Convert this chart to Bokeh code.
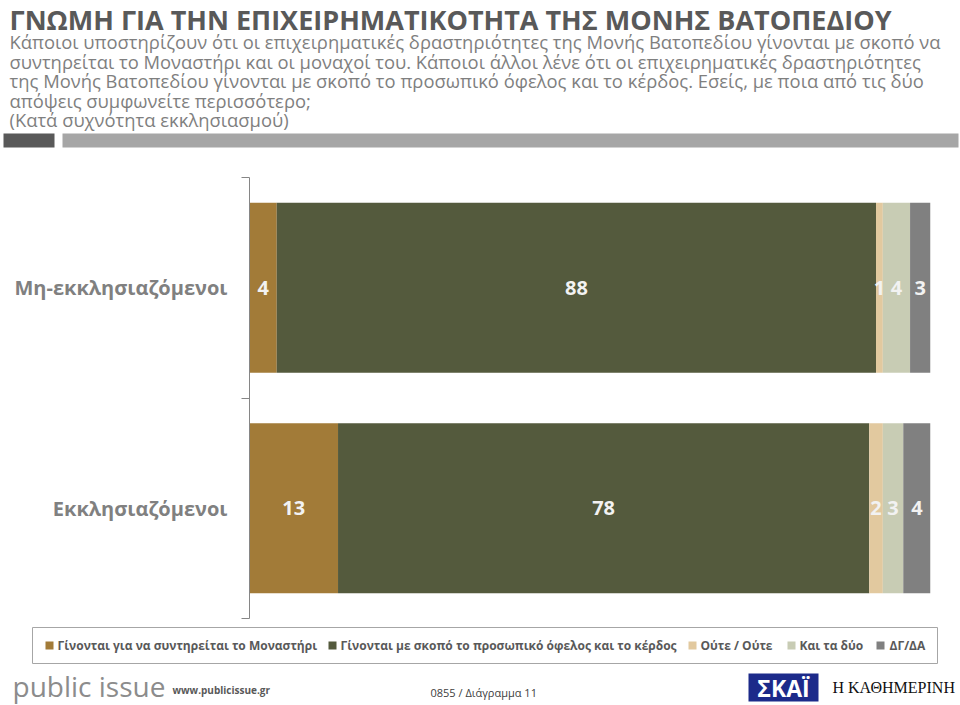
from bokeh.plotting import figure
from bokeh.layouts import column
from bokeh.models import Range1d, FixedTicker, ColumnDataSource
from bokeh.core.properties import value
from bokeh.embed import file_html
from bokeh.resources import INLINE

# ---------------- data ----------------
title = "ΓΝΩΜΗ ΓΙΑ ΤΗΝ ΕΠΙΧΕΙΡΗΜΑΤΙΚΟΤΗΤΑ ΤΗΣ ΜΟΝΗΣ ΒΑΤΟΠΕΔΙΟΥ"
subtitle_lines = [
    "Κάποιοι υποστηρίζουν ότι οι επιχειρηματικές δραστηριότητες της Μονής Βατοπεδίου γίνονται με σκοπό να",
    "συντηρείται το Μοναστήρι και οι μοναχοί του. Κάποιοι άλλοι λένε ότι οι επιχειρηματικές δραστηριότητες",
    "της Μονής Βατοπεδίου γίνονται με σκοπό το προσωπικό όφελος και το κέρδος. Εσείς, με ποια από τις δύο",
    "απόψεις συμφωνείτε περισσότερο;",
    "(Κατά συχνότητα εκκλησιασμού)",
]
categories = ["Εκκλησιαζόμενοι", "Μη-εκκλησιαζόμενοι"]  # bottom to top
series = [
    "Γίνονται για να συντηρείται το Μοναστήρι",
    "Γίνονται με σκοπό το προσωπικό όφελος και το κέρδος",
    "Ούτε / Ούτε",
    "Και τα δύο",
    "ΔΓ/ΔΑ",
]
v_maintain = [13, 4]
v_profit = [78, 88]
v_neither = [2, 1]
v_both = [3, 4]
v_dkna = [4, 3]
footer_left = "public issue"
footer_url = "www.publicissue.gr"
footer_code = "0855 / Διάγραμμα 11"
logo_tv = "ΣΚΑΪ"
logo_paper = "Η ΚΑΘΗΜΕΡΙΝΗ"

# ---------------- styles ----------------
colors = ["#A27B38", "#545A3D", "#E2C99F", "#C8CCB4", "#808080"]
FONT = "Open Sans"
W = 960

def blank(height):
    f = figure(width=W, height=height, x_range=Range1d(0, W), y_range=Range1d(height, 0),
               output_backend="svg", toolbar_location=None, min_border=0,
               x_axis_location=None, y_axis_location=None, frame_align=False)
    f.outline_line_color = None
    f.grid.visible = False
    f.background_fill_color = "white"
    f.border_fill_color = "white"
    return f

# ---------------- header ----------------
HH = 168
h = blank(HH)
h.text(x=[9], y=[19], text=[title], text_font=value(FONT), text_font_style="bold",
       text_font_size="27px", text_color="#595959", text_baseline="middle")
sub_y = [41, 60.5, 80, 99.5, 119]
h.text(x=[9] * len(subtitle_lines), y=sub_y[:len(subtitle_lines)], text=subtitle_lines,
       text_font=value(FONT), text_font_size="18.4px", text_color="#7F7F7F",
       text_baseline="middle")
h.quad(left=[3, 62], right=[54, 958], top=[133, 133], bottom=[147, 147],
       fill_color=["#595959", "#A6A6A6"], line_color=None)

# ---------------- main chart ----------------
MH = 455
p = figure(width=W, height=MH, x_range=Range1d(0, 100), y_range=Range1d(0, len(categories)),
           output_backend="svg", toolbar_location=None, frame_align=False,
           min_border_left=249, min_border_right=30, min_border_top=9, min_border_bottom=5,
           x_axis_location=None, y_axis_location="left")
p.outline_line_color = None
p.grid.visible = False

ypos = [i + 0.5 for i in range(len(categories))]
keys = ["s0", "s1", "s2", "s3", "s4"]
vals = [v_maintain, v_profit, v_neither, v_both, v_dkna]
src = ColumnDataSource(dict(y=ypos, **{k: v for k, v in zip(keys, vals)}))
p.hbar_stack(keys, y="y", height=0.77, color=colors, line_color=None, source=src)

lx, ly, lt = [], [], []
for j in range(len(categories)):
    acc = 0
    for v in vals:
        lx.append(acc + v[j] / 2)
        ly.append(ypos[j])
        lt.append(str(v[j]))
        acc += v[j]
p.text(x=lx, y=ly, text=lt, text_font=value(FONT), text_font_style="bold",
       text_font_size="20px", text_color="#F2F2F2", text_align="center", text_baseline="middle")

ax = p.yaxis[0]
ax.ticker = FixedTicker(ticks=ypos, minor_ticks=list(range(len(categories) + 1)))
ax.major_label_overrides = {y: c for y, c in zip(ypos, categories)}
ax.major_tick_line_color = None
ax.major_tick_out = 0
ax.major_tick_in = 0
ax.minor_tick_out = 8
ax.minor_tick_in = 0
ax.minor_tick_line_color = "#868686"
ax.axis_line_color = "#868686"
ax.major_label_standoff = 14
ax.major_label_text_font = FONT
ax.major_label_text_font_style = "bold"
ax.major_label_text_font_size = "20px"
ax.major_label_text_color = "#808080"

# ---------------- legend + footer ----------------
FH = 705 - HH - MH
f = blank(FH)
f.quad(left=[32], right=[937], top=[4], bottom=[40], fill_color="white", line_color="#A6A6A6")
leg_sq_x = [49, 332, 692, 791, 880]
leg_tx_x = [57, 340, 700, 799, 889]
f.scatter(x=leg_sq_x, y=[22] * 5, marker="square", size=8, fill_color=colors, line_color=None)
f.text(x=leg_tx_x, y=[22] * 5, text=series, text_font=value(FONT), text_font_style="bold",
       text_font_size="12px", text_color="#595959", text_baseline="middle")

f.text(x=[12], y=[62], text=[footer_left], text_font=value(FONT), text_font_size="28px",
       text_color="#8C8C8C", text_baseline="middle")
f.text(x=[172], y=[66], text=[footer_url], text_font=value(FONT), text_font_style="bold",
       text_font_size="10px", text_color="#595959", text_baseline="middle")
f.text(x=[430], y=[69], text=[footer_code], text_font=value(FONT),
       text_font_size="11px", text_color="#404040", text_baseline="middle")
f.quad(left=[748], right=[818], top=[50], bottom=[78], fill_color="#1C2A8A", line_color=None)
f.text(x=[783], y=[64], text=[logo_tv], text_font=value(FONT), text_font_style="bold",
       text_font_size="23px", text_color="white", text_align="center", text_baseline="middle")
f.text(x=[832], y=[64], text=[logo_paper], text_font=value("Liberation Serif"),
       text_font_size="16px", text_color="#111111", text_baseline="middle")

layout = column(h, p, f, spacing=0)
open("out.html", "w").write(file_html(layout, INLINE))
